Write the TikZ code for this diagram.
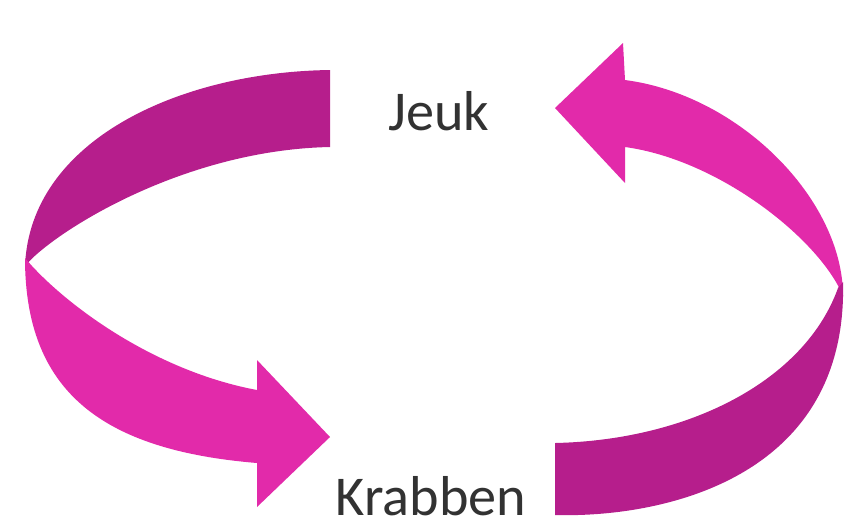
\documentclass[tikz,border=0pt]{standalone}
\usepackage{fontspec}
\setmainfont{Carlito}
\usepackage{tikz}
\usetikzlibrary{positioning}
\definecolor{frontpink}{RGB}{226,42,170}
\definecolor{backpink}{RGB}{182,30,140}
\definecolor{labelgray}{RGB}{50,50,50}

\begin{document}
\begin{tikzpicture}[x=0.02cm, y=-0.02cm]
    % Define styles
    \tikzstyle{front} = [fill=frontpink, draw=none]
    \tikzstyle{back} = [fill=backpink, draw=none]
    \tikzstyle{label} = [text=labelgray, font=\fontsize{32}{38}\selectfont, anchor=base, inner sep=0pt]

    \useasboundingbox (0,0) rectangle (848,529);

    % Left arrow, back part
    \fill [back] (330,70) .. controls (180,72) and (30,140) .. (25,266)
        .. controls (50,235) and (180,150) .. (330,147) -- cycle;

    % Left arrow, front part
    \fill [front] (25,258) .. controls (25,390) and (100,450) .. (257,463)
        -- (257,507) -- (330,437) -- (257,360) -- (257,390)
        .. controls (150,370) and (60,300) .. (25,258) -- cycle;

    % Right arrow, front part
    \fill [front] (555,108) -- (623,43) -- (625,80)
        .. controls (740,95) and (843,200) .. (843,296)
        .. controls (820,240) and (720,160) .. (625,147)
        -- (625,183) -- cycle;

    % Right arrow, back part
    \fill [back] (843,282) .. controls (848,480) and (660,518) .. (555,515)
        -- (555,443)
        .. controls (690,440) and (805,380) .. (838,288) -- cycle;

    % Labels
    \node [label] (jeuk) at (439,130) {Jeuk};
    \node [label] (krabben) at (431,515) {Krabben};
\end{tikzpicture}
\end{document}
